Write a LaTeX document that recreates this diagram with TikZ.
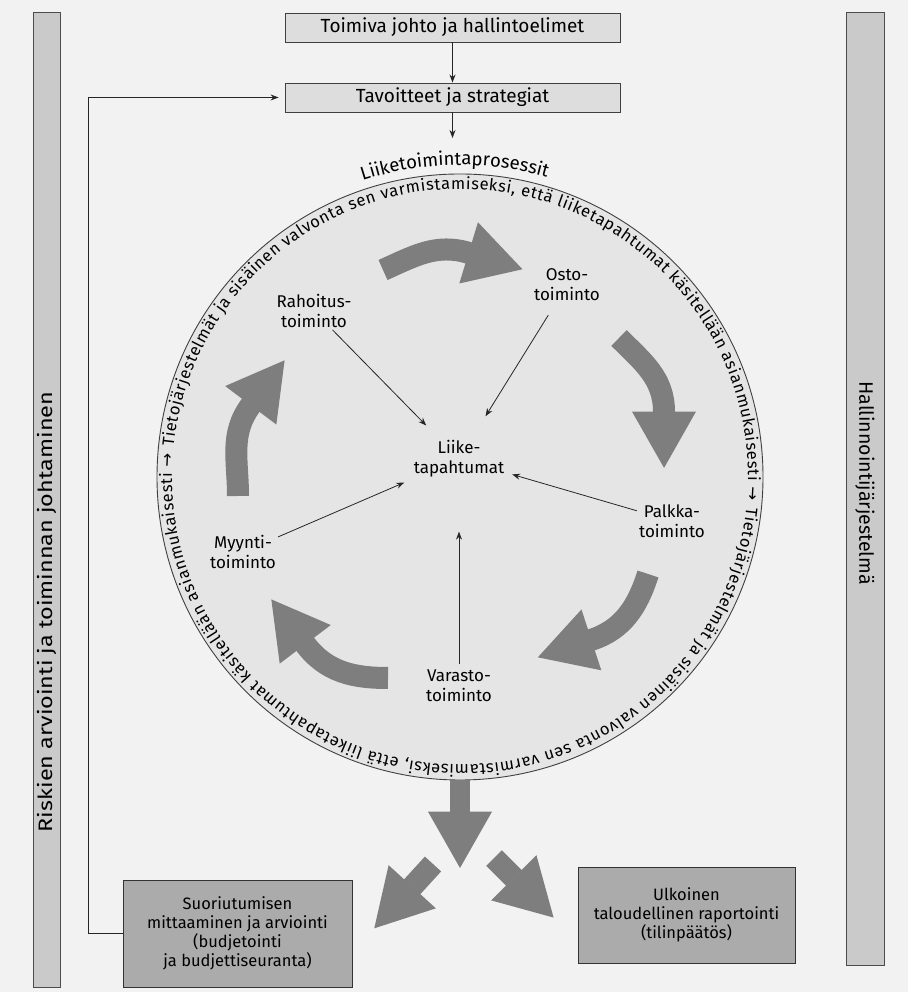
\documentclass[tikz,border=0pt]{standalone}
\usepackage{fontspec}
\usepackage{graphicx}
\setmainfont{Fira Sans}
\newfontfamily\arrfont{DejaVu Sans}
\usetikzlibrary{arrows.meta,decorations.text,decorations.markings,calc}
\definecolor{bggray}{HTML}{F2F2F2}
\definecolor{circfill}{HTML}{E5E5E5}
\definecolor{barfill}{HTML}{CACACA}
\definecolor{boxlight}{HTML}{DDDDDD}
\definecolor{boxdark}{HTML}{ABABAB}
\definecolor{arrowgray}{HTML}{7E7E7E}
\newcommand\cfnt{\fontsize{16.5}{19}\selectfont}
\newcommand\lpfnt{\fontsize{18.5}{21}\selectfont}
\begin{document}
\begin{tikzpicture}[x=1pt,y=1pt,
  conn/.style={draw=black!85, line width=0.9pt, -{Stealth[length=8pt,width=6pt]}},
  topbox/.style={draw=black!75, line width=0.9pt, fill=boxlight, minimum width=335pt, minimum height=29pt, inner sep=0pt, font=\fontsize{19}{22}\selectfont},
  botbox/.style={draw=black!80, line width=0.9pt, fill=boxdark, align=center, font=\fontsize{16.5}{19}\selectfont, inner sep=0pt},
  sidebar/.style={draw=black!70, line width=0.9pt, fill=barfill, inner sep=0pt},
  sidetext/.style={font=\fontsize{19.5}{22}\selectfont, inner sep=0pt},
  lbl/.style={align=center, font=\fontsize{17}{20}\selectfont, inner sep=2pt},
  cyc/.style={draw=arrowgray, line width=22pt, postaction=decorate,
    decoration={markings, mark=at position 0.999 with {\fill[arrowgray] (-0.3pt,-32pt) -- (56pt,0pt) -- (-0.3pt,32pt) -- cycle;}}},
]
\useasboundingbox (0,0) rectangle (908,992);
\fill[bggray] (0,0) rectangle (908,992);

% side bars
\node[sidebar, minimum width=27pt, minimum height=975pt] (lbar) at (46.5,492.5) {};
\node[sidetext, rotate=90] (ltext) at (47,380) {\scalebox{1.2}[1]{Riskien arviointi ja toiminnan johtaminen}};
\node[sidebar, minimum width=38pt, minimum height=953pt] (rbar) at (865,503.5) {};
\node[sidetext, rotate=-90] (rtext) at (865,509) {Hallinnointijärjestelmä};

% top boxes
\node[topbox] (toim) at (452.5,964.5) {Toimiva johto ja hallintoelimet};
\node[topbox] (tav) at (452.5,894.5) {Tavoitteet ja strategiat};
\coordinate (lp) at (452.5,854);
\draw[conn] (toim) -- (tav);
\draw[conn] (tav) -- (lp);

% circle
\node[circle, draw=black!75, line width=0.9pt, fill=circfill, minimum size=606pt, inner sep=0pt] (circ) at (460,515) {};

\path[decorate, decoration={text along path, text={|\lpfnt|Liiketoimintaprosessit}, text align=center}]
  (460,515) ++(111:312) arc[start angle=111, end angle=71, radius=312];

\path[decorate, decoration={text along path, text={|\cfnt|Tietojärjestelmät ja sisäinen valvonta sen varmistamiseksi, että liiketapahtumat käsitellään asianmukaisesti |\cfnt\arrfont|→}, text align=fit to path}]
  (460,515) ++(174:288) arc[start angle=174, end angle=-4.5, radius=288];
\path[decorate, decoration={text along path, text={|\cfnt|Tietojärjestelmät ja sisäinen valvonta sen varmistamiseksi, että liiketapahtumat käsitellään asianmukaisesti |\cfnt\arrfont|→}, text align=fit to path}]
  (460,515) ++(-6:288) arc[start angle=-6, end angle=-184.5, radius=288];

% cycle arrows
\draw[cyc] (383,722) to[out=24,in=163] (469,739);
\draw[cyc] (619,654) to[out=-45,in=90] (664,580);
\draw[cyc] (648,418) to[out=-108,in=18] (591,352);
\draw[cyc] (388,314) to[out=180,in=-53] (305,348);
\draw[cyc] (238,496) to[out=90,in=-127] (251,587);

% labels
\node[lbl] (liike) at (459,533) {Liike-\\tapahtumat};
\node[lbl] (osto) at (567,707) {Osto-\\toiminto};
\node[lbl] (rah) at (314,681) {Rahoitus-\\toiminto};
\node[lbl] (myy) at (243,440) {Myynti-\\toiminto};
\node[lbl] (palk) at (672,471) {Palkka-\\toiminto};
\node[lbl] (var) at (459,306) {Varasto-\\toiminto};

\draw[conn, line width=0.8pt, shorten >=18pt] (rah) -- (liike);
\draw[conn, line width=0.8pt, shorten <=14pt, shorten >=26pt] (osto) -- (liike);
\draw[conn, line width=0.8pt, shorten >=8pt] (myy) -- (liike);
\draw[conn, line width=0.8pt, shorten >=6pt] (palk) -- (liike);
\draw[conn, line width=0.8pt, shorten <=4pt, shorten >=52pt] (var) -- (liike);

% bottom arrows
\coordinate (dA) at (460,180);
\draw[cyc, line width=20pt] (circ.south) -- (dA);
\coordinate (lA1) at (433,128);
\coordinate (lA2) at (412,105);
\coordinate (rA1) at (494,134);
\coordinate (rA2) at (514,114);
\draw[cyc] (lA1) -- (lA2);
\draw[cyc] (rA1) -- (rA2);

% bottom boxes
\node[botbox, minimum width=229pt, minimum height=107pt] (suo) at (237.5,58.5) {Suoriutumisen\\mittaaminen ja arviointi\\(budjetointi\\ja budjettiseuranta)};
\node[botbox, minimum width=217pt, minimum height=96pt] (ulk) at (686.5,77) {Ulkoinen\\taloudellinen raportointi\\(tilinpäätös)};

% feedback line
\draw[conn, shorten >=6pt] (suo.west) -- ++(-34,0) |- (tav.west);
\end{tikzpicture}
\end{document}
